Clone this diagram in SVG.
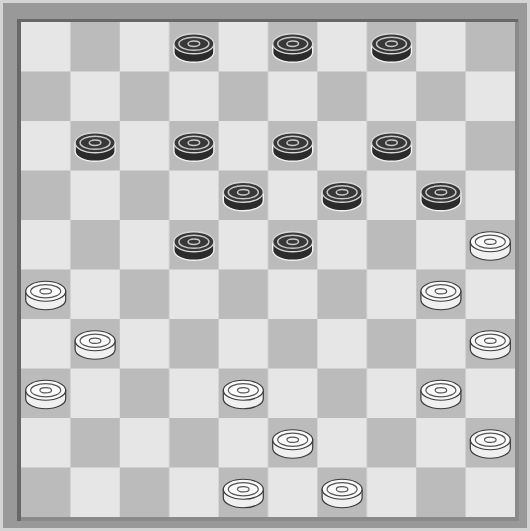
<svg xmlns="http://www.w3.org/2000/svg" xmlns:xlink="http://www.w3.org/1999/xlink" width="530" height="531" viewBox="0 0 530 531">
  <defs>
    <pattern id="checks" patternUnits="userSpaceOnUse" x="21" y="22" width="98.8" height="99">
      <rect x="0" y="0" width="98.8" height="99" fill="#e6e6e6"/>
      <rect x="49.4" y="0" width="49.4" height="49.5" fill="#bbbbbb"/>
      <rect x="0" y="49.5" width="49.4" height="49.5" fill="#bbbbbb"/>
    </pattern>
    <g id="black-piece">
      <path d="M-20,0 v8.5 a20 10 0 0 0 40,0 v-8.5 z" fill="#2b2b2b" stroke="#f2f2f2" stroke-width="1.4"/>
      <ellipse cx="0" cy="0" rx="20" ry="10" fill="#383838" stroke="#d8d8d8" stroke-width="1.3"/>
      <ellipse cx="0" cy="0" rx="15" ry="6.6" fill="none" stroke="#c8c8c8" stroke-width="1.5"/>
      <ellipse cx="0" cy="0" rx="5.8" ry="2.7" fill="none" stroke="#c8c8c8" stroke-width="1.5"/>
    </g>
    <g id="white-piece">
      <path d="M-20,0 v8.5 a20 10 0 0 0 40,0 v-8.5 z" fill="#f0f0f0" stroke="#3a3a3a" stroke-width="1.2"/>
      <ellipse cx="0" cy="0" rx="20" ry="10" fill="#fafafa" stroke="#3a3a3a" stroke-width="1.2"/>
      <ellipse cx="0" cy="0" rx="15" ry="6.6" fill="none" stroke="#555555" stroke-width="1.2"/>
      <ellipse cx="0" cy="0" rx="5.8" ry="2.7" fill="none" stroke="#555555" stroke-width="1.2"/>
    </g>
  </defs>

  <g id="frame">
    <rect x="0" y="0" width="530" height="531" fill="#d4d4d4"/>
    <rect x="3" y="3" width="524" height="525" fill="#999999"/>
    <rect x="17" y="19" width="502" height="502" fill="#8a8a8a"/>
    <path d="M17,19 H518 V22 H21 V521 H17 Z" fill="#686868"/>
  </g>

  <g id="board">
    <rect x="21" y="22" width="494" height="495" fill="url(#checks)"/>
  </g>

  <g id="pieces">
    <use id="b-r0c3" xlink:href="#black-piece" href="#black-piece" x="193.9" y="43.75"/>
    <use id="b-r0c5" xlink:href="#black-piece" href="#black-piece" x="292.7" y="43.75"/>
    <use id="b-r0c7" xlink:href="#black-piece" href="#black-piece" x="391.5" y="43.75"/>
    <use id="b-r2c1" xlink:href="#black-piece" href="#black-piece" x="95.1" y="142.75"/>
    <use id="b-r2c3" xlink:href="#black-piece" href="#black-piece" x="193.9" y="142.75"/>
    <use id="b-r2c5" xlink:href="#black-piece" href="#black-piece" x="292.7" y="142.75"/>
    <use id="b-r2c7" xlink:href="#black-piece" href="#black-piece" x="391.5" y="142.75"/>
    <use id="b-r3c4" xlink:href="#black-piece" href="#black-piece" x="243.3" y="192.25"/>
    <use id="b-r3c6" xlink:href="#black-piece" href="#black-piece" x="342.1" y="192.25"/>
    <use id="b-r3c8" xlink:href="#black-piece" href="#black-piece" x="440.9" y="192.25"/>
    <use id="b-r4c3" xlink:href="#black-piece" href="#black-piece" x="193.9" y="241.75"/>
    <use id="b-r4c5" xlink:href="#black-piece" href="#black-piece" x="292.7" y="241.75"/>
    <use id="w-r4c9" xlink:href="#white-piece" href="#white-piece" x="490.3" y="241.75"/>
    <use id="w-r5c0" xlink:href="#white-piece" href="#white-piece" x="45.7" y="291.25"/>
    <use id="w-r5c8" xlink:href="#white-piece" href="#white-piece" x="440.9" y="291.25"/>
    <use id="w-r6c1" xlink:href="#white-piece" href="#white-piece" x="95.1" y="340.75"/>
    <use id="w-r6c9" xlink:href="#white-piece" href="#white-piece" x="490.3" y="340.75"/>
    <use id="w-r7c0" xlink:href="#white-piece" href="#white-piece" x="45.7" y="390.25"/>
    <use id="w-r7c4" xlink:href="#white-piece" href="#white-piece" x="243.3" y="390.25"/>
    <use id="w-r7c8" xlink:href="#white-piece" href="#white-piece" x="440.9" y="390.25"/>
    <use id="w-r8c5" xlink:href="#white-piece" href="#white-piece" x="292.7" y="439.75"/>
    <use id="w-r8c9" xlink:href="#white-piece" href="#white-piece" x="490.3" y="439.75"/>
    <use id="w-r9c4" xlink:href="#white-piece" href="#white-piece" x="243.3" y="489.25"/>
    <use id="w-r9c6" xlink:href="#white-piece" href="#white-piece" x="342.1" y="489.25"/>
  </g>
</svg>
